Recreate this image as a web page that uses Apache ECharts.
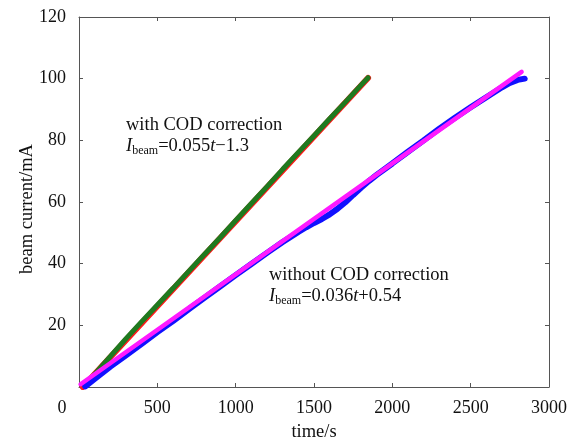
<!DOCTYPE html>
<html><head><meta charset="utf-8">
<script src="https://cdn.jsdelivr.net/npm/echarts@6/dist/echarts.min.js"></script>
<style>html,body{margin:0;padding:0;background:#fff}#c{width:574px;height:447px}</style>
</head><body><div id="c"></div>
<script>
// x ticks / y ticks
const xTicks = [0, 500, 1000, 1500, 2000, 2500, 3000];
const yTicks = [0, 20, 40, 60, 80, 100, 120];

// with COD correction: measured beam current
const withT = [40, 100, 200, 300, 400, 500, 600, 700, 800, 900, 1000, 1100, 1200, 1300, 1400, 1500, 1600, 1700, 1800, 1845];
const withI = [0.4, 4.2, 9.9, 15.7, 21.2, 26.6, 32.0, 37.5, 43.0, 48.4, 54.0, 59.5, 65.0, 70.6, 76.1, 81.5, 87.0, 92.4, 97.9, 100.3];
// with COD correction: linear fit I = 0.055t - 1.3
const withFitT = [24, 1845];
const withFitI = [0.0, 100.2];

// without COD correction: measured beam current
const withoutT = [40, 100, 200, 300, 400, 500, 600, 700, 800, 900, 1000, 1100, 1200, 1300, 1400, 1450, 1500, 1550, 1600, 1650, 1700, 1750, 1800, 1850, 1900, 2000, 2100, 2200, 2300, 2400, 2500, 2600, 2700, 2750, 2800, 2845];
const withoutI = [0.2, 2.6, 6.6, 10.3, 14.0, 17.8, 21.4, 25.2, 28.9, 32.6, 36.3, 39.9, 43.5, 47.0, 50.3, 51.8, 53.2, 54.5, 56.0, 57.8, 59.9, 62.3, 64.6, 66.8, 68.8, 72.5, 76.3, 80.0, 83.8, 87.3, 90.7, 94.0, 97.2, 98.6, 99.6, 100.0];
// without COD correction: linear fit I = 0.036t + 0.54
const withoutFitT = [10, 2825];
const withoutFitI = [0.9, 102.2];

const zip = (a, b) => a.map((v, i) => [v, b[i]]);
const FONT = '"Liberation Serif", "Times New Roman", serif';
const AX = '#555';

const chart = echarts.init(document.getElementById('c'), null, {renderer: 'canvas'});
const baseAxis = {
  axisLine: {show: true, onZero: false, lineStyle: {color: AX, width: 1}},
  axisTick: {show: true, inside: true, length: 4, lineStyle: {color: AX}},
  splitLine: {show: false}
};
chart.setOption({
  animation: false,
  backgroundColor: '#fff',
  grid: {left: 79, right: 25, top: 17, bottom: 58},
  xAxis: [
    Object.assign({}, baseAxis, {
      type: 'value', min: xTicks[0], max: xTicks[xTicks.length - 1], interval: 500,
      name: 'time/s', nameLocation: 'middle', nameGap: 36,
      nameTextStyle: {fontFamily: FONT, fontSize: 18.5, color: '#111'},
      axisLabel: {
        fontFamily: FONT, fontSize: 18, color: '#111', margin: 12,
        formatter: v => v === 0 ? '{z|0}' : String(v),
        rich: {z: {fontFamily: FONT, fontSize: 18, color: '#111', padding: [0, 34, 0, 0]}}
      }
    }),
    Object.assign({}, baseAxis, {
      type: 'value', position: 'top', min: 0, max: 3000, interval: 500,
      axisLabel: {show: false}
    })
  ],
  yAxis: [
    Object.assign({}, baseAxis, {
      type: 'value', min: yTicks[0], max: yTicks[yTicks.length - 1], interval: 20,
      name: 'beam current/mA', nameLocation: 'middle', nameGap: 42, nameMoveOverlap: false,
      nameTextStyle: {fontFamily: FONT, fontSize: 18.5, color: '#111', padding: [0, 0, 0, -14]},
      axisLabel: {
        fontFamily: FONT, fontSize: 18, color: '#111', margin: 13,
        formatter: v => v === 0 ? '' : String(v)
      }
    }),
    Object.assign({}, baseAxis, {
      type: 'value', position: 'right', min: 0, max: 120, interval: 20,
      axisLabel: {show: false}
    })
  ],
  series: [
    {type: 'line', name: 'fit with COD', data: zip(withFitT, withFitI), showSymbol: false,
     lineStyle: {color: '#ff1a1a', width: 6, cap: 'round'}, z: 2},
    {type: 'line', name: 'with COD correction', data: zip(withT, withI), showSymbol: false,
     lineStyle: {color: '#1f7a1f', width: 5, cap: 'round'}, z: 3},
    {type: 'line', name: 'without COD correction', data: zip(withoutT, withoutI), showSymbol: false,
     lineStyle: {color: '#1010ff', width: 6, cap: 'round'}, z: 4},
    {type: 'line', name: 'fit without COD', data: zip(withoutFitT, withoutFitI), showSymbol: false,
     lineStyle: {color: '#ff19ff', width: 4.5, cap: 'round'}, z: 5}
  ],
  graphic: [
    {type: 'text', left: 126, top: 116, z: 10,
     style: {text: 'with COD correction', font: '18.5px ' + FONT, fill: '#111'}},
    {type: 'text', left: 126, top: 137, z: 10,
     style: {
       text: '{i|I}{s|beam}{n|=0.055}{i|t}{n|\u22121.3}',
       rich: {
         i: {font: 'italic 18.5px ' + FONT, fill: '#111'},
         n: {font: '18.5px ' + FONT, fill: '#111'},
         s: {font: '12px ' + FONT, fill: '#111', padding: [9, 0, 0, 0]}
       }
     }},
    {type: 'text', left: 269, top: 266, z: 10,
     style: {text: 'without COD correction', font: '18.5px ' + FONT, fill: '#111'}},
    {type: 'text', left: 269, top: 287, z: 10,
     style: {
       text: '{i|I}{s|beam}{n|=0.036}{i|t}{n|+0.54}',
       rich: {
         i: {font: 'italic 18.5px ' + FONT, fill: '#111'},
         n: {font: '18.5px ' + FONT, fill: '#111'},
         s: {font: '12px ' + FONT, fill: '#111', padding: [9, 0, 0, 0]}
       }
     }}
  ]
});
</script></body></html>
